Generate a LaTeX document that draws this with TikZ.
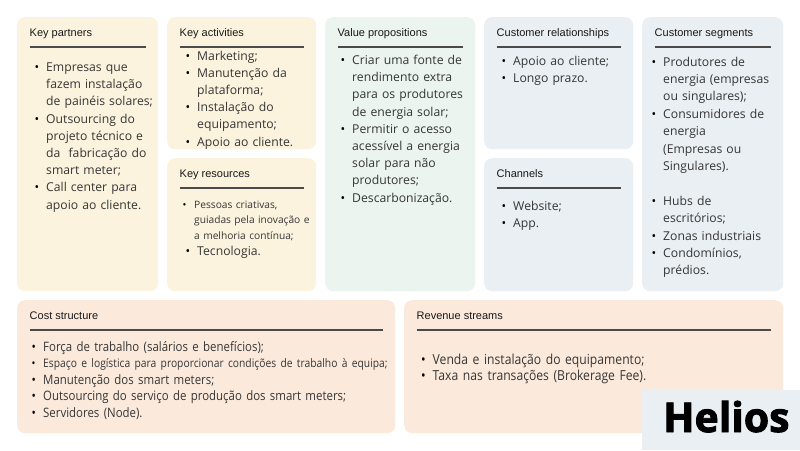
\documentclass[tikz,border=0pt]{standalone}
\usepackage{fontspec}
\setmainfont{Open Sans}
\newfontfamily\headfont{Liberation Sans}
\newfontfamily\narrowfont[FakeStretch=0.88]{Open Sans}
\newfontfamily\logofont[BoldFeatures={FakeBold=2.2}]{Open Sans}
\usetikzlibrary{positioning,calc}
\definecolor{cream}{HTML}{FBF3DD}
\definecolor{mint}{HTML}{EBF4EE}
\definecolor{frost}{HTML}{E9EFF3}
\definecolor{peach}{HTML}{FBEADC}
\definecolor{ink}{HTML}{363636}
\definecolor{rulegray}{HTML}{4A4A4A}
\newcommand{\itemdot}{\makebox[11.5pt][l]{\textcolor{black}{\textbullet}}}
\newcommand{\itemgap}{\hspace*{11.5pt}}

\begin{document}
\begin{tikzpicture}[x=1pt,y=-1pt,
    card/.style={rectangle,rounded corners=8pt,draw=none,inner sep=0pt,anchor=north west},
    head/.style={anchor=base west,inner sep=0pt,text=black!90,font=\headfont\fontsize{11}{13}\selectfont},
    rule/.style={draw=rulegray,line width=1.2pt},
    list/.style={anchor=base west,inner sep=0pt,text width=600pt,align=left,text=ink,font=\fontsize{12.2}{17.2}\selectfont},
    small/.style={list,font=\fontsize{10.2}{15.5}\selectfont},
    narrow/.style={list,font=\narrowfont\fontsize{13}{16.5}\selectfont}]
  \useasboundingbox[fill=white] (0,0) rectangle (800,450);
  \node[card,fill=cream,minimum width=141pt,minimum height=274pt] (partners) at (17,17) {};
  \node[card,fill=cream,minimum width=149pt,minimum height=132pt] (activities) at (167,17) {};
  \node[card,fill=cream,minimum width=149pt,minimum height=133pt] (resources) at (167,158) {};
  \node[card,fill=mint,minimum width=150pt,minimum height=274pt] (proposition) at (325,17) {};
  \node[card,fill=frost,minimum width=149pt,minimum height=132pt] (relations) at (484,17) {};
  \node[card,fill=frost,minimum width=149pt,minimum height=133pt] (channels) at (484,158) {};
  \node[card,fill=frost,minimum width=141pt,minimum height=274pt] (segments) at (642,17) {};
  \node[card,fill=peach,minimum width=378pt,minimum height=133pt] (costs) at (17,300) {};
  \node[card,fill=peach,minimum width=379pt,minimum height=133pt] (revenue) at (404,300) {};
  \foreach \blk/\name in {partners/Key partners,activities/Key activities,resources/Key resources,
      proposition/Value propositions,relations/Customer relationships,channels/Channels,
      segments/Customer segments,costs/Cost structure,revenue/Revenue streams}{
    \node[head] (\blk H) at ($(\blk.north west)+(12.5,19)$) {\name};
    \draw[rule] ($(\blk.north west)+(12.5,30)$) -- ($(\blk.north east)+(-12,30)$);
  }
  \node[list] (partnersL) at ($(partners.north west)+(17.5,54.5)$) {\itemdot Empresas que\\
    \itemgap fazem instalação\\ \itemgap de painéis solares;\\
    \itemdot Outsourcing do\\ \itemgap projeto técnico e\\ \itemgap da\ \ fabricação do\\
    \itemgap smart meter;\\ \itemdot Call center para\\ \itemgap apoio ao cliente.};
  \node[list] (activitiesL) at ($(activities.north west)+(18.5,43)$) {\itemdot Marketing;\\
    \itemdot Manutenção da\\ \itemgap plataforma;\\ \itemdot Instalação do\\
    \itemgap equipamento;\\ \itemdot Apoio ao cliente.};
  \node[small] (resourcesL) at ($(resources.north west)+(15.5,50)$) {\itemdot Pessoas criativas,\\
    \itemgap guiadas pela inovação e\\ \itemgap a melhoria contínua;};
  \node[list] (resourcesM) at ($(resources.north west)+(18.5,97)$) {\itemdot Tecnologia.};
  \node[list] (propositionL) at ($(proposition.north west)+(15.5,47.5)$) {\itemdot Criar uma fonte de\\
    \itemgap rendimento extra\\ \itemgap para os produtores\\ \itemgap de energia solar;\\
    \itemdot Permitir o acesso\\ \itemgap acessível a energia\\ \itemgap solar para não\\
    \itemgap produtores;\\ \itemdot Descarbonização.};
  \node[list] (relationsL) at ($(relations.north west)+(17.5,48.5)$) {\itemdot Apoio ao cliente;\\
    \itemdot Longo prazo.};
  \node[list] (channelsL) at ($(channels.north west)+(17.5,52)$) {\itemdot Website;\\ \itemdot App.};
  \node[list,font=\fontsize{12.2}{17.4}\selectfont] (segmentsL) at ($(segments.north west)+(9.5,49)$) {\itemdot Produtores de\\
    \itemgap energia (empresas\\ \itemgap ou singulares);\\ \itemdot Consumidores de\\
    \itemgap energia\\ \itemgap (Empresas ou\\ \itemgap Singulares).\\[17.4pt]
    \itemdot Hubs de\\ \itemgap escritórios;\\ \itemdot Zonas industriais\\
    \itemdot Condomínios,\\ \itemgap prédios.};
  \node[narrow] (costsL) at ($(costs.north west)+(14.5,51)$) {\itemdot Força de trabalho (salários e benefícios);\\
    {\fontsize{11.7}{16.5}\selectfont\itemdot Espaço e logística para proporcionar condições de trabalho à equipa;}\\
    \itemdot Manutenção dos smart meters;\\
    \itemdot Outsourcing do serviço de produção dos smart meters;\\
    \itemdot Servidores (Node).};
  \node[narrow,font=\narrowfont\fontsize{13.8}{16.8}\selectfont] (revenueL) at ($(revenue.north west)+(17,64)$) {\itemdot Venda e instalação do equipamento;\\
    \itemdot Taxa nas transações (Brokerage Fee).};
  \node[rectangle,fill=frost,inner sep=0pt,anchor=north west,minimum width=158pt,minimum height=60pt] (logo) at (642,390) {};
  \node[anchor=base west,inner sep=0pt,font=\logofont\bfseries\fontsize{41}{42}\selectfont] (logoT) at ($(logo.north west)+(21,42)$) {Helios};
\end{tikzpicture}
\end{document}
